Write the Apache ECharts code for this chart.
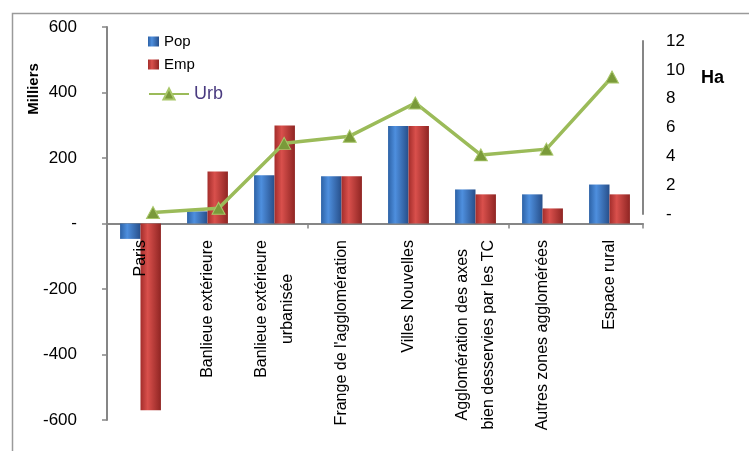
<!DOCTYPE html>
<html>
<head>
<meta charset="utf-8">
<script src="https://cdn.jsdelivr.net/npm/echarts@6/dist/echarts.min.js"></script>
<style>
html,body{margin:0;padding:0;background:#fff;}
#c{width:749px;height:451px;}
</style>
</head>
<body>
<div id="c"></div>
<script>
var categories = ['Paris', 'Banlieue extérieure', 'Banlieue extérieure\nurbanisée', "Frange de l'agglomération", 'Villes Nouvelles', 'Agglomération des axes\nbien desservies par les TC', 'Autres zones agglomérées', 'Espace rural'];
var popValues = [-47, 37, 147, 144, 298, 104, 89, 119];
var empValues = [-570, 159, 299, 144, 298, 89, 46, 89];
var urbValues = [0.1, 0.4, 4.9, 5.4, 7.7, 4.1, 4.5, 9.5];
var leftTicks = {min: -600, max: 600, interval: 200};
var rightTicks = {min: 0, max: 12, interval: 2};

var FONT = '"Liberation Sans", Arial, sans-serif';
var axisGray = '#868686';

function dashZero(v) { return v === 0 ? '-' : String(v); }

var chart = echarts.init(document.getElementById('c'), null, {renderer: 'canvas'});
var blueGrad = new echarts.graphic.LinearGradient(0, 0, 1, 0, [
  {offset: 0, color: '#2d62a6'}, {offset: 0.35, color: '#4e8fde'}, {offset: 1, color: '#274f8a'}]);
var redGrad = new echarts.graphic.LinearGradient(0, 0, 1, 0, [
  {offset: 0, color: '#a32d2b'}, {offset: 0.35, color: '#d9504c'}, {offset: 1, color: '#8f2523'}]);

chart.setOption({
  animation: false,
  textStyle: {fontFamily: FONT},
  grid: [
    {left: 107, right: 106, top: 27, bottom: 31, containLabel: false, outerBoundsMode: 'none'},
    {left: 153, right: 137, top: 41, height: 173, containLabel: false, outerBoundsMode: 'none'},
    {left: 107, right: 106, top: 27, height: 197, containLabel: false, outerBoundsMode: 'none'}
  ],
  legend: [
    {data: ['Pop', 'Emp'], orient: 'vertical', left: 143, top: 29, itemWidth: 11, itemHeight: 10,
     itemGap: 8, itemTextGap: 5, icon: 'rect', textStyle: {fontSize: 15, color: '#000', fontFamily: FONT}},
    {data: ['Urb'], orient: 'vertical', left: 143, top: 80, itemWidth: 40, itemHeight: 14,
     itemTextGap: 4, textStyle: {fontSize: 18, color: '#4a3b80', fontFamily: FONT}}
  ],
  xAxis: [
    {type: 'category', gridIndex: 0, data: categories,
     axisLine: {onZero: true, lineStyle: {color: axisGray, width: 2}},
     axisTick: {show: true, length: 5, lineStyle: {color: axisGray, width: 1.5}},
     axisLabel: {show: false}},
    {type: 'category', gridIndex: 1, data: categories, boundaryGap: false, show: false},
    {type: 'category', gridIndex: 2, data: categories, z: 20,
     axisLine: {show: false}, axisTick: {show: false},
     axisLabel: {rotate: 90, margin: 16, interval: 0, color: '#000',
       formatter: function (v) { return v.split('\n').map(function (l) { return '{c|' + l + '}'; }).join('\n'); },
       rich: {c: {align: 'center', fontSize: 16, lineHeight: 26, color: '#000', fontFamily: FONT}}}}
  ],
  yAxis: [
    {type: 'value', gridIndex: 0, min: leftTicks.min, max: leftTicks.max, interval: leftTicks.interval,
     axisLine: {show: true, lineStyle: {color: axisGray, width: 2}},
     axisTick: {show: true, length: 5, lineStyle: {color: axisGray, width: 1.5}},
     splitLine: {show: false},
     axisLabel: {formatter: dashZero, margin: 30, fontSize: 17, color: '#000', fontFamily: FONT}},
    {type: 'value', gridIndex: 1, position: 'right', offset: 31,
     min: rightTicks.min, max: rightTicks.max, interval: rightTicks.interval,
     axisLine: {show: true, lineStyle: {color: axisGray, width: 2}},
     axisTick: {show: false},
     splitLine: {show: false},
     axisLabel: {formatter: dashZero, margin: 23, fontSize: 17, color: '#000', fontFamily: FONT}},
    {type: 'value', gridIndex: 2, show: false}
  ],
  series: [
    {name: 'Pop', type: 'bar', xAxisIndex: 0, yAxisIndex: 0, data: popValues,
     barGap: '0%', barCategoryGap: '39%', itemStyle: {color: blueGrad}},
    {name: 'Emp', type: 'bar', xAxisIndex: 0, yAxisIndex: 0, data: empValues,
     barGap: '0%', barCategoryGap: '39%', itemStyle: {color: redGrad}},
    {name: 'Urb', type: 'line', xAxisIndex: 1, yAxisIndex: 1, data: urbValues, z: 5,
     symbol: 'triangle', symbolSize: [13, 12],
     lineStyle: {color: '#9bbb59', width: 3.5},
     itemStyle: {color: '#7a9a3a', borderColor: '#a9c76a', borderWidth: 1}}
  ],
  graphic: [
    {type: 'rect', left: 10, top: 11, shape: {x: 0, y: 0, width: 800, height: 500}, silent: true,
     style: {fill: 'none', stroke: '#9a9a9a', lineWidth: 1.5}},
    {type: 'text', x: 34, y: 89, rotation: Math.PI / 2, silent: true,
     style: {text: 'Milliers', font: 'bold 15px ' + FONT, fill: '#000', align: 'center', verticalAlign: 'middle'}},
    {type: 'text', x: 701, y: 78, silent: true,
     style: {text: 'Ha', font: 'bold 18px ' + FONT, fill: '#000', align: 'left', verticalAlign: 'middle'}}
  ]
});
</script>
</body>
</html>
